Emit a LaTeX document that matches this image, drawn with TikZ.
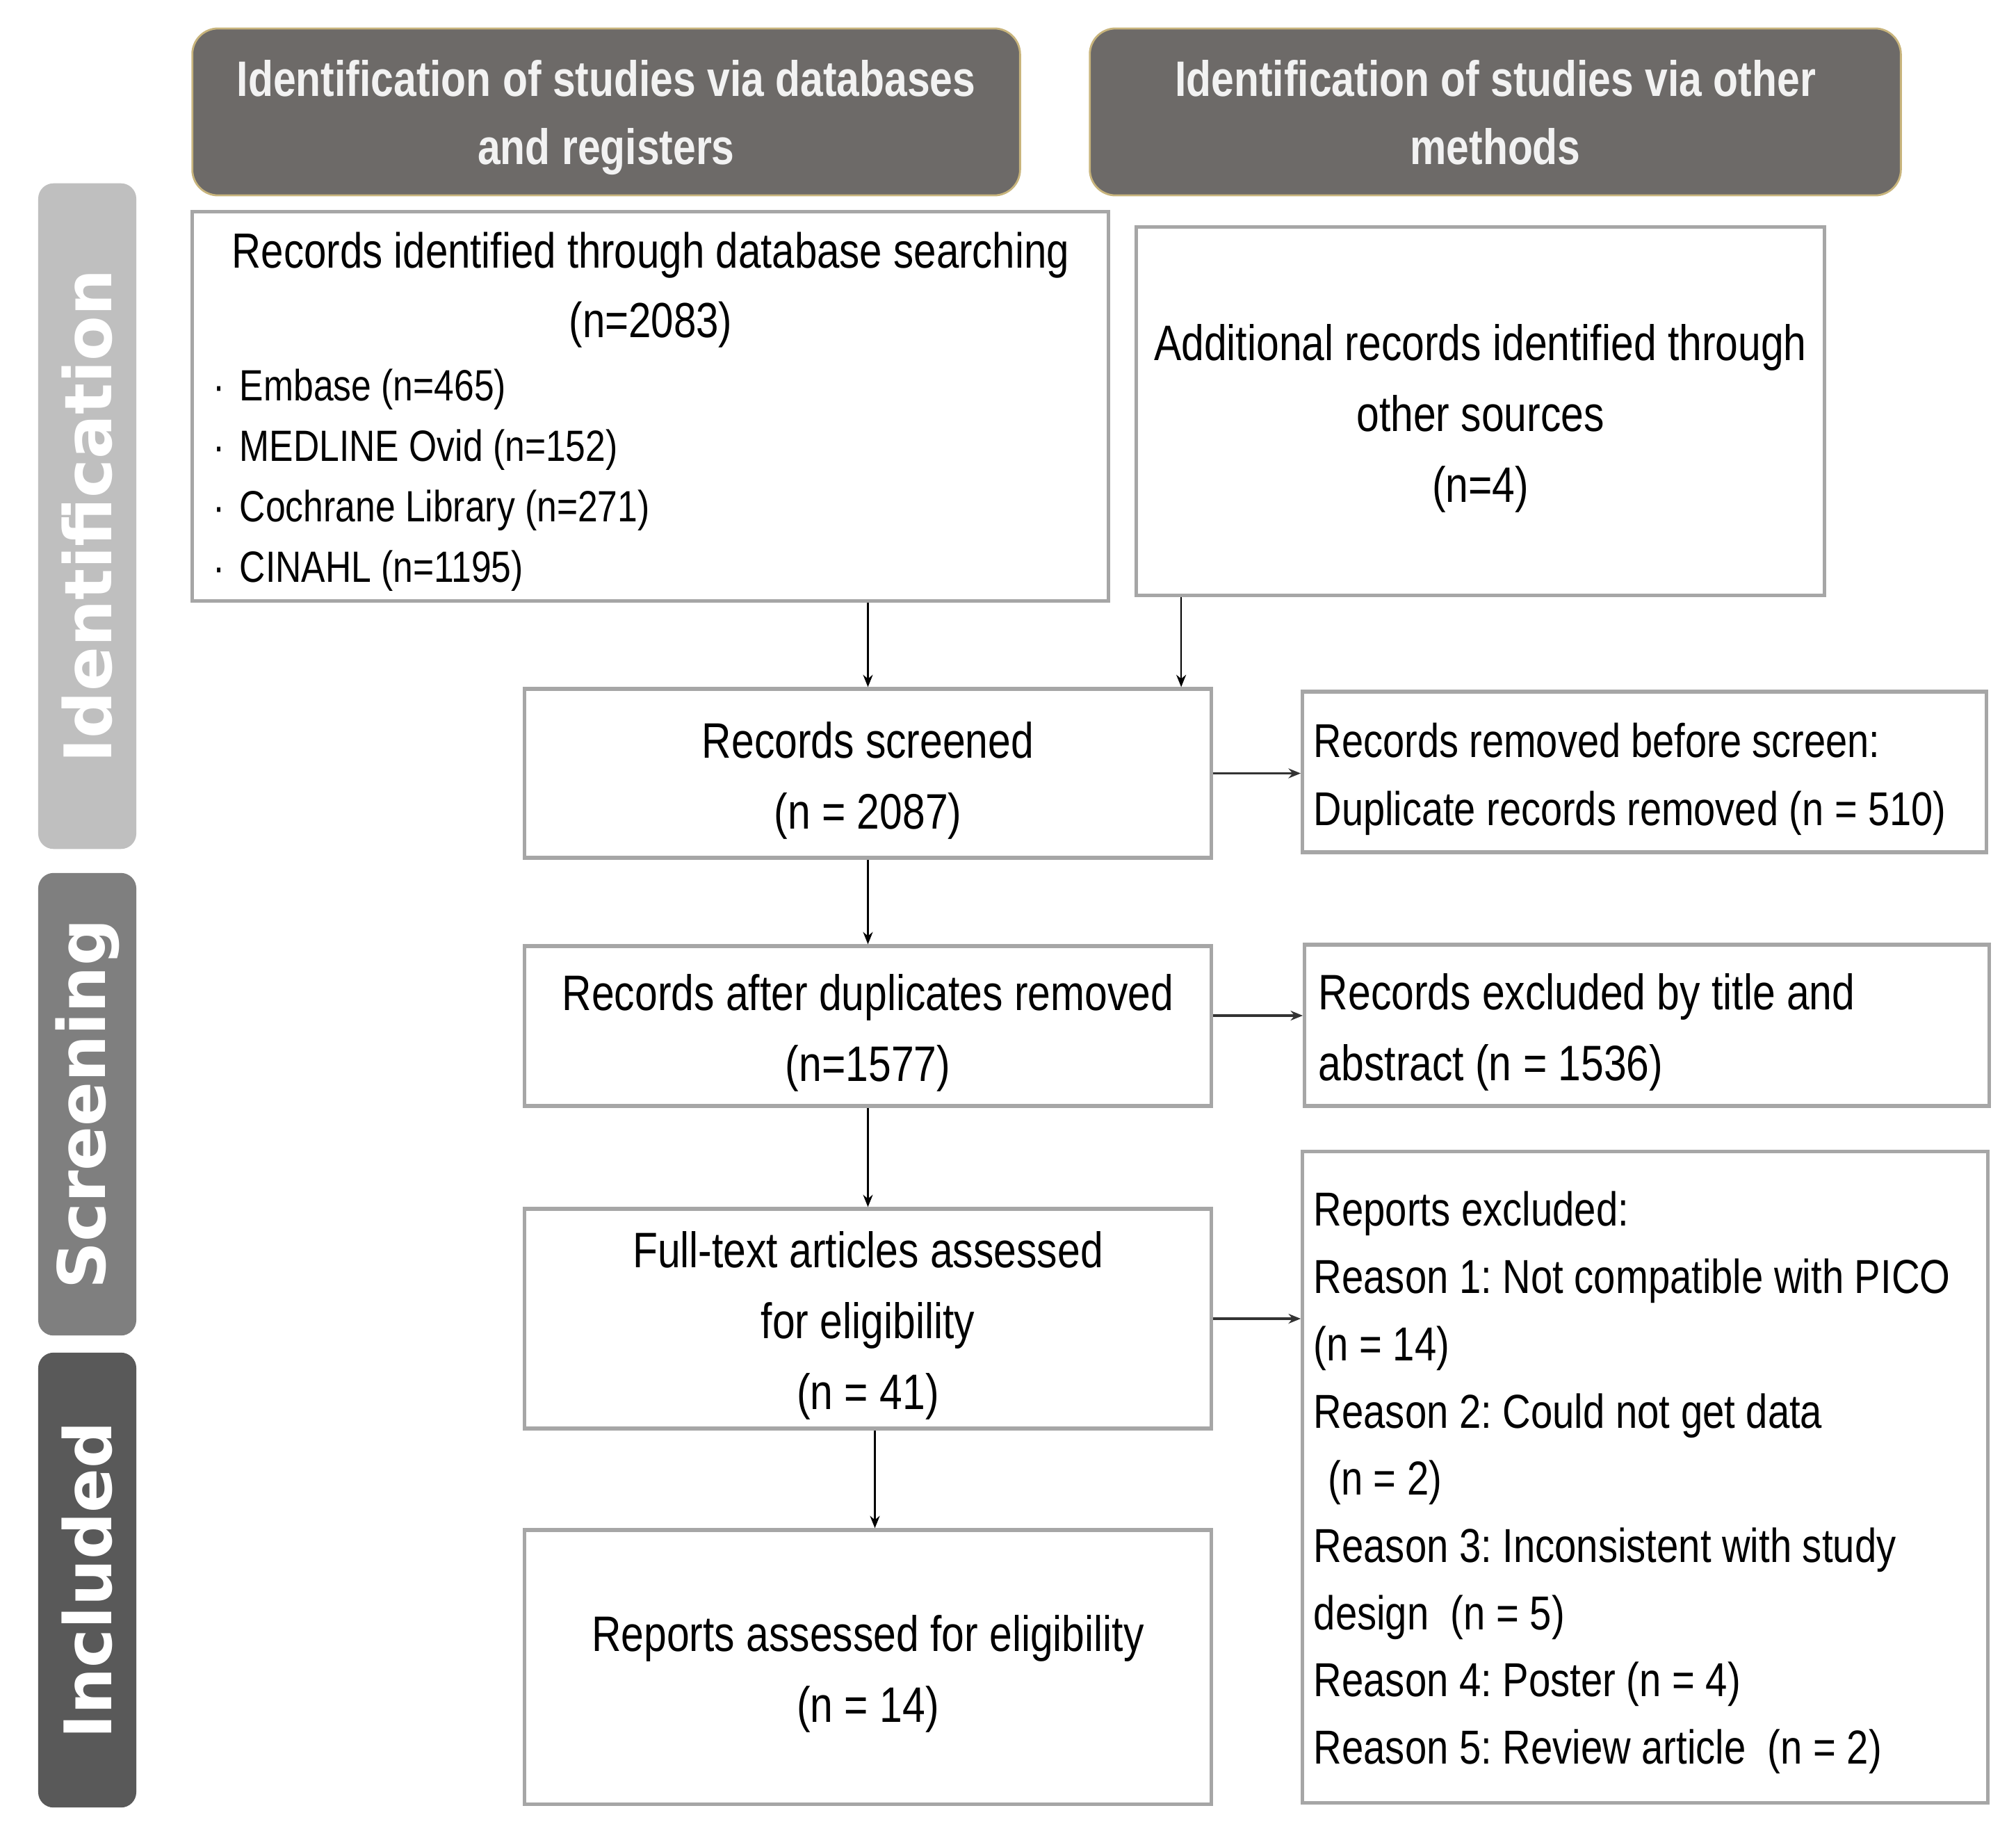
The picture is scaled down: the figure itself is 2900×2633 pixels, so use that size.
\documentclass[tikz,border=0pt]{standalone}
\usepackage{fontspec}
\setmainfont{Liberation Sans}[FakeStretch=0.82]
\newfontfamily\tabfont{DejaVu Sans}
\usetikzlibrary{arrows.meta,calc}
\definecolor{hdrfill}{HTML}{6D6A68}
\definecolor{hdrline}{HTML}{C8B47C}
\definecolor{boxline}{HTML}{A6A6A6}
\definecolor{tabA}{HTML}{BFBFBF}
\definecolor{tabB}{HTML}{7F7F7F}
\definecolor{tabC}{HTML}{595959}
\definecolor{hdrtext}{HTML}{F2F2F2}
\frenchspacing
\begin{document}
\begin{tikzpicture}[x=0.01cm,y=-0.01cm,
  box/.style={draw=boxline, line width=1.5pt, fill=white, inner sep=0pt},
  txt/.style={inner sep=0pt, align=center, font=\fontsize{20.4}{29}\selectfont},
  ltxt/.style={txt, align=left, anchor=west},
  hdr/.style={draw=hdrline, line width=0.8pt, fill=hdrfill, rounded corners=0.37cm, inner sep=0pt},
  htxt/.style={inner sep=0pt, text=hdrtext, align=center, font=\fontsize{20.4}{27.9}\selectfont\bfseries},
  tabbox/.style={rounded corners=0.22cm, text=white, font=\tabfont\bfseries\fontsize{26.8}{30}\selectfont,
    rotate=90, inner sep=0pt},
  arr/.style={-{Stealth[length=5pt,width=4pt]}, line width=0.6pt},
  harr/.style={-{Stealth[length=5pt,width=4pt]}, line width=1.1pt, draw=black!80}
]
\useasboundingbox (0,0) rectangle (2900,2633);

% headers
\node[hdr, minimum width=11.9cm, minimum height=2.4cm] (h1) at (872,161) {};
\node[htxt] (h1t) at ([yshift=-0.08cm]h1.center) {Identification of studies via databases\\and registers};
\node[hdr, minimum width=11.66cm, minimum height=2.4cm] (h2) at (2151,161) {};
\node[htxt] (h2t) at ([yshift=-0.01cm]h2.center) {Identification of studies via other\\methods};

% side tabs
\node[tabbox, fill=tabA, minimum width=9.57cm, minimum height=1.41cm] (t1) at (125.5,742.5) {Identification};
\node[tabbox, fill=tabB, minimum width=6.65cm, minimum height=1.41cm] (t2) at (125.5,1588.5) {Screening};
\node[tabbox, fill=tabC, minimum width=6.54cm, minimum height=1.41cm] (t3) at (125.5,2273) {Included};

% boxes
\node[box, minimum width=13.17cm, minimum height=5.59cm] (db) at (935.5,584.5) {};
\node[txt, font=\fontsize{20.2}{28.5}\selectfont] (dbt) at (936,417)
  {Records identified through database searching\\(n=2083)};
\node[ltxt, font=\fontsize{17.9}{24.75}\selectfont] (dbl) at (306,691)
  {·\hspace{6pt}Embase (n=465)\\
   ·\hspace{6pt}MEDLINE Ovid (n=152)\\
   ·\hspace{6pt}Cochrane Library (n=271)\\
   ·\hspace{6pt}CINAHL (n=1195)};

\node[box, minimum width=9.89cm, minimum height=5.29cm] (oth) at (2129.5,591.5) {};
\node[txt] (otht) at ([yshift=-0.1cm]oth.center)
  {Additional records identified through\\other sources\\(n=4)};

\node[box, minimum width=9.87cm, minimum height=2.43cm] (scr) at (1248.5,1112.5) {};
\node[txt] (scrt) at ([yshift=-0.1cm]scr.center) {Records screened\\(n = 2087)};

\node[box, minimum width=9.83cm, minimum height=2.31cm] (rem) at (2365.5,1110.5) {};
\node[ltxt, font=\fontsize{19.4}{27.9}\selectfont] (remt) at ([xshift=0.18cm,yshift=-0.1cm]rem.west)
  {Records removed before screen:\\Duplicate records removed (n = 510)};

\node[box, minimum width=9.87cm, minimum height=2.30cm] (aft) at (1248.5,1476) {};
\node[txt] (aftt) at ([yshift=-0.1cm]aft.center) {Records after duplicates removed\\(n=1577)};

\node[box, minimum width=9.84cm, minimum height=2.32cm] (exc) at (2369,1475) {};
\node[ltxt] (exct) at ([xshift=0.22cm,yshift=-0.1cm]exc.west)
  {Records excluded by title and\\abstract (n = 1536)};

\node[box, minimum width=9.87cm, minimum height=3.16cm] (full) at (1248.5,1897) {};
\node[txt] (fullt) at ([yshift=-0.1cm]full.center)
  {Full-text articles assessed\\for eligibility\\(n = 41)};

\node[box, minimum width=9.85cm, minimum height=9.36cm] (rep) at (2366.5,2125) {};
\node[ltxt, font=\fontsize{19.5}{27.5}\selectfont] (rept) at ([xshift=0.18cm,yshift=-0.08cm]rep.west)
  {Reports excluded:\\
   Reason 1: Not compatible with PICO\\
   (n = 14)\\
   Reason 2: Could not get data\\
   \hspace{0.3em}(n = 2)\\
   Reason 3: Inconsistent with study\\
   design\ \ (n = 5)\\
   Reason 4: Poster (n = 4)\\
   Reason 5: Review article\ \ (n = 2)};

\node[box, minimum width=9.87cm, minimum height=3.94cm] (fin) at (1248.5,2398) {};
\node[txt] (fint) at ([yshift=-0.1cm]fin.center) {Reports assessed for eligibility\\(n = 14)};

% connectors
\draw[arr] (db.south -| scr.north) -- (scr.north);
\draw[arr] ([xshift=0.67cm]oth.south west) -- ([xshift=0.67cm]oth.south west |- scr.north);
\draw[harr] (scr.east) -- (scr.east -| rem.west);
\draw[arr] (scr.south) -- (aft.north);
\draw[harr] ([yshift=0.15cm]aft.east) -- ([yshift=0.15cm]aft.east -| exc.west);
\draw[arr] (aft.south) -- (full.north);
\draw[harr] (full.east) -- (full.east -| rep.west);
\draw[arr] ([xshift=0.1cm]full.south) -- ([xshift=0.1cm]fin.north);
\end{tikzpicture}
\end{document}
